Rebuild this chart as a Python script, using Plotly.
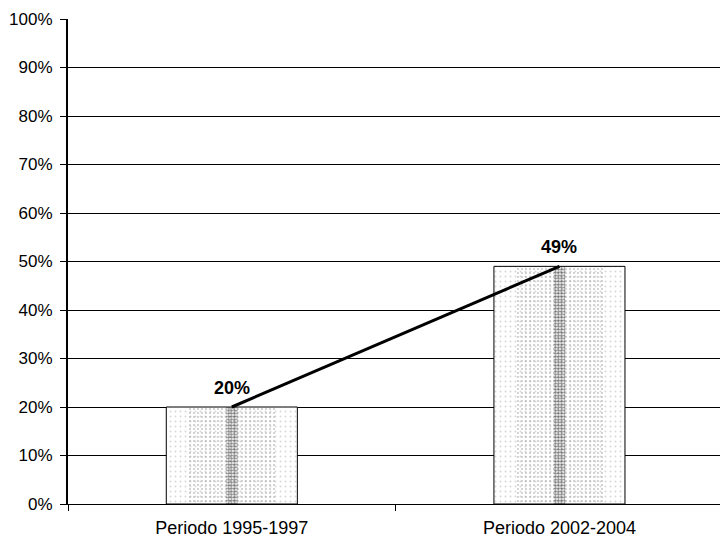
import plotly.graph_objects as go

# Share of the total for each period
periods = ["Periodo 1995-1997", "Periodo 2002-2004"]
shares = [0.20, 0.49]
share_labels = ["20%", "49%"]
y_ticks = [i / 10 for i in range(11)]
y_tick_labels = [f"{i * 10}%" for i in range(11)]

font_family = "Liberation Sans, Arial, sans-serif"

fig = go.Figure()

# Main bars: white with black outline and a faint stipple
fig.add_trace(go.Bar(
    x=periods, y=shares, width=0.4,
    marker=dict(color="white", line=dict(color="black", width=1),
                pattern=dict(shape=".", fgcolor="#b0b0b0", bgcolor="white",
                             size=5, solidity=0.12)),
    hoverinfo="skip", showlegend=False,
))
# Inner band of denser stipple
fig.add_trace(go.Bar(
    x=periods, y=shares, width=0.27,
    marker=dict(color="rgba(0,0,0,0)", line=dict(width=0),
                pattern=dict(shape=".", fgcolor="#8a8a8a", bgcolor="rgba(0,0,0,0)",
                             size=4, solidity=0.18)),
    hoverinfo="skip", showlegend=False,
))
# Dark central streak
fig.add_trace(go.Bar(
    x=periods, y=shares, width=0.035,
    marker=dict(color="rgba(0,0,0,0)", line=dict(width=0),
                pattern=dict(shape=".", fgcolor="#1a1a1a", bgcolor="rgba(0,0,0,0)",
                             size=3, solidity=0.55)),
    hoverinfo="skip", showlegend=False,
))
# Trend line joining the bar tops
fig.add_trace(go.Scatter(
    x=periods, y=shares, mode="lines",
    line=dict(color="black", width=3),
    hoverinfo="skip", showlegend=False,
))

# Value labels above each bar
for p, v, lab in zip(periods, shares, share_labels):
    fig.add_annotation(
        x=p, y=v, text=f"<b>{lab}</b>", showarrow=False,
        xanchor="center", yanchor="bottom", yshift=7,
        font=dict(family=font_family, size=18, color="black"),
    )

fig.update_layout(
    width=720, height=544,
    margin=dict(l=68, r=0, t=19, b=40),
    paper_bgcolor="white", plot_bgcolor="white",
    barmode="overlay",
    font=dict(family=font_family, size=17, color="black"),
    xaxis=dict(
        type="category", range=[-0.5, 1.49],
        tickson="boundaries", ticks="outside", ticklen=6, tickcolor="black",
        showline=True, linecolor="black", linewidth=1,
        showgrid=False, tickfont=dict(size=18), ticklabelstandoff=7,
    ),
    yaxis=dict(
        range=[0, 1], tickvals=y_ticks, ticktext=y_tick_labels,
        ticks="outside", ticklen=6, tickcolor="black",
        showline=True, linecolor="black", linewidth=2,
        showgrid=True, gridcolor="black", gridwidth=1,
        zeroline=True, zerolinecolor="black", zerolinewidth=1,
        tickfont=dict(size=17), ticklabelstandoff=4,
    ),
)

fig.write_html("out.html")
